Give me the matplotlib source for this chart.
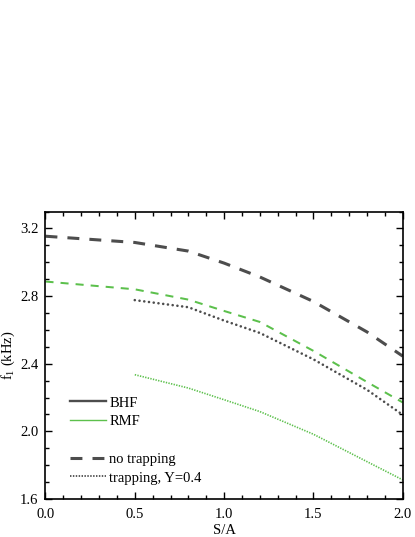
import matplotlib
matplotlib.use("Agg")
import matplotlib.pyplot as plt
from matplotlib.lines import Line2D
from matplotlib.ticker import MultipleLocator

plt.rcParams['font.family'] = ['Liberation Serif', 'DejaVu Serif']
plt.rcParams['mathtext.fontset'] = 'custom'
plt.rcParams['mathtext.rm'] = 'Liberation Serif'
plt.rcParams['mathtext.it'] = 'Liberation Serif:italic'

# S/A values
sa_full = [0.0, 0.5, 0.8, 1.0, 1.2, 1.5, 1.8, 2.0]
sa_trap = [0.5, 0.8, 1.0, 1.2, 1.5, 1.8, 2.0]

# f1 (kHz)
bhf_notrap = [3.154, 3.117, 3.066, 2.995, 2.913, 2.768, 2.588, 2.445]
rmf_notrap = [2.886, 2.840, 2.779, 2.712, 2.647, 2.476, 2.292, 2.171]
bhf_trap = [2.776, 2.734, 2.655, 2.582, 2.426, 2.246, 2.098]
rmf_trap = [2.335, 2.256, 2.187, 2.117, 1.983, 1.821, 1.713]

gray = '#4d4d4d'
green = '#5cc04c'

fig = plt.figure(figsize=(4.15, 5.37), dpi=100)
ax = fig.add_axes([0.1096, 0.0708, 0.8607, 0.5353])

ax.plot(sa_full, bhf_notrap, color=gray, lw=2.2, dashes=(3.9, 3.3))
ax.plot(sa_full, rmf_notrap, color=green, lw=1.45, dashes=(4.0, 3.5))
ax.plot(sa_trap, bhf_trap, color=gray, lw=1.9, dashes=(0.01, 1.8),
        dash_capstyle='round')
ax.plot(sa_trap, rmf_trap, color=green, lw=1.2, dashes=(0.8, 0.8))

ax.set_xlim(0, 2.0)
ax.set_ylim(1.6, 3.3)
ax.xaxis.set_major_locator(MultipleLocator(0.5))
ax.xaxis.set_minor_locator(MultipleLocator(0.1))
ax.yaxis.set_major_locator(MultipleLocator(0.4))
ax.yaxis.set_minor_locator(MultipleLocator(0.1))
ax.xaxis.set_major_formatter(plt.FormatStrFormatter('%.1f'))
ax.yaxis.set_major_formatter(plt.FormatStrFormatter('%.1f'))
ax.tick_params(which='both', direction='in', top=True, right=True, labelsize=10.5, width=1)
ax.tick_params(which='major', length=5)
ax.tick_params(which='minor', length=3)
ax.tick_params(axis='x', which='major', pad=6.5)
ax.tick_params(axis='y', which='major', pad=5)
for s in ax.spines.values():
    s.set_linewidth(1.2)

ax.set_xlabel('S/A', fontsize=10.5, labelpad=2)
ax.set_ylabel('f$_1$ (kHz)', fontsize=10.5, labelpad=2)

handles = [
    Line2D([], [], color=gray, lw=1.7),
    Line2D([], [], color=green, lw=1.0),
    Line2D([], [], color='none'),
    Line2D([], [], color=gray, lw=2.2, dashes=(3.9, 3.3)),
    Line2D([], [], color=gray, lw=1.3, dashes=(0.8, 0.8)),
]
labels = ['BHF', 'RMF', '', 'no trapping', 'trapping, Y=0.4']
ax.legend(handles, labels, loc='lower left', bbox_to_anchor=(0.052, 0.03),
          frameon=False, fontsize=10.5, handlelength=2.5, handletextpad=0.2,
          labelspacing=0.38, borderaxespad=0)

fig.savefig('out.png', dpi=100)
